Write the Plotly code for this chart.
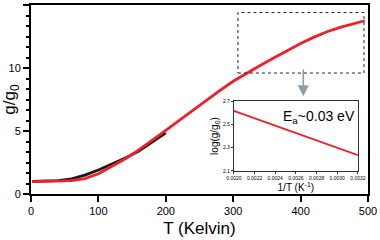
import plotly.graph_objects as go

# Main data
T_red = [2, 20, 40, 60, 80, 100, 120, 140, 160, 180, 200, 220, 240, 260, 280, 300,
         320, 340, 360, 380, 400, 420, 440, 460, 480, 495]
g_red = [0.98, 1.0, 1.02, 1.06, 1.22, 1.6, 2.2, 2.8, 3.5, 4.25, 5.05, 5.85, 6.65, 7.45,
         8.2, 8.95, 9.6, 10.2, 10.8, 11.4, 11.95, 12.45, 12.9, 13.25, 13.55, 13.75]
T_black = [2, 20, 40, 60, 80, 100, 120, 140, 160, 180, 200]
g_black = [1.0, 1.02, 1.06, 1.2, 1.5, 1.9, 2.35, 2.85, 3.4, 4.1, 4.85]

# Inset data
invT = [0.0020, 0.0032]
log_g = [2.615, 2.235]

x_ticks = [0, 100, 200, 300, 400, 500]
y_ticks = [0, 5, 10, 15]
inset_x_ticks = [0.0020, 0.0022, 0.0024, 0.0026, 0.0028, 0.0030, 0.0032]
inset_y_ticks = [2.1, 2.3, 2.5, 2.7]

fig = go.Figure()
fig.add_trace(go.Scatter(x=T_black, y=g_black, mode="lines",
                         line=dict(color="#1a1a1a", width=2.8), showlegend=False))
fig.add_trace(go.Scatter(x=T_red, y=g_red, mode="lines",
                         line=dict(color="#f0202a", width=2.8), showlegend=False))
fig.add_trace(go.Scatter(x=invT, y=log_g, mode="lines", xaxis="x2", yaxis="y2",
                         line=dict(color="#f0202a", width=1.8), showlegend=False))

font = "Liberation Sans, Arial, sans-serif"
fig.update_layout(
    width=380, height=240,
    margin=dict(l=31, r=12, t=5, b=46),
    paper_bgcolor="white", plot_bgcolor="white",
    font=dict(family=font, color="black"),
    xaxis=dict(range=[0, 500], tickvals=x_ticks, showgrid=False, zeroline=False,
               automargin=False,
               showline=True, linecolor="black", linewidth=2, mirror=True,
               ticks="outside", ticklen=6, tickwidth=2, tickcolor="black",
               tickfont=dict(size=11),
               title=dict(text="T (Kelvin)", font=dict(size=17), standoff=6)),
    yaxis=dict(range=[0, 15], tickvals=y_ticks, showgrid=False, zeroline=False,
               automargin=False,
               showline=True, linecolor="black", linewidth=2, mirror=True,
               ticks="outside", ticklen=6, tickwidth=2, tickcolor="black",
               tickfont=dict(size=11),
               minor=dict(dtick=5/6, ticks="outside", ticklen=3, tickwidth=1.5,
                          tickcolor="black", showgrid=False),
               title=dict(text="g/g<sub>0</sub>", font=dict(size=17), standoff=2)),
    xaxis2=dict(domain=[0.602, 0.970], anchor="y2", range=[0.0020, 0.0032],
                automargin=False,
                tickvals=inset_x_ticks, tickformat=".4f", showgrid=False, zeroline=False,
                showline=True, linecolor="#333", linewidth=1, mirror=True,
                ticks="outside", ticklen=2, tickwidth=1, tickcolor="#333",
                tickfont=dict(size=5),
                title=dict(text="1/T (K<sup>-1</sup>)", font=dict(size=10), standoff=1)),
    yaxis2=dict(domain=[0.122, 0.492], anchor="x2", range=[2.1, 2.7],
                automargin=False,
                tickvals=inset_y_ticks, tickformat=".1f", showgrid=False, zeroline=False,
                showline=True, linecolor="#333", linewidth=1, mirror=True,
                ticks="outside", ticklen=2, tickwidth=1, tickcolor="#333",
                tickfont=dict(size=5),
                title=dict(text="log(g/g<sub>0</sub>)", font=dict(size=10), standoff=2)),
)

fig.add_shape(type="rect", xref="x", yref="y", x0=307, x1=494, y0=9.6, y1=14.4,
              line=dict(color="#222", width=1, dash="dot"))

fig.add_annotation(x=404, y=7.75, ax=404, ay=10.0, xref="x", yref="y",
                   axref="x", ayref="y", text="", showarrow=True,
                   arrowhead=2, arrowsize=1.4, arrowwidth=1.6, arrowcolor="#8aa0a2")

fig.add_annotation(x=0.00282, y=2.56, xref="x2", yref="y2",
                   text="E<sub>a</sub>~0.03 eV", showarrow=False,
                   font=dict(size=14, color="black"))

fig.write_html("out.html", config={"displayModeBar": False},
               post_script="document.body.style.margin='0px';document.body.style.padding='0px';")
